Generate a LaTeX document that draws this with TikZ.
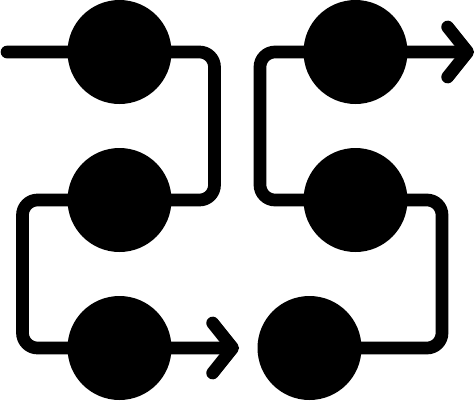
\documentclass[tikz,border=0pt]{standalone}
\usetikzlibrary{arrows.meta}
\tikzset{
  dot/.style={circle, fill=black, minimum size=104pt, inner sep=0pt},
  track/.style={line width=12.7pt, line cap=round, rounded corners=15pt},
  flowtip/.style={-{Straight Barb[length=20pt, width=50pt, round]}}
}
\begin{document}
\begin{tikzpicture}[x=1pt, y=-1pt]
  \useasboundingbox (0,0) rectangle (475,400);

  % Left column of stations
  \node[dot] (l1) at (119.5,52) {};
  \node[dot] (l2) at (119.5,200) {};
  \node[dot] (l3) at (119.5,348) {};

  % Right column of stations
  \node[dot] (r1) at (355.5,52) {};
  \node[dot] (r2) at (355.5,200) {};
  \node[dot] (r3) at (309.5,348) {};

  % Free ends and bends of the tracks
  \coordinate (lin) at (7,52);
  \coordinate (lbend1) at (214.5,52);
  \coordinate (lbend2) at (22.5,200);
  \coordinate (lout) at (239,348);
  \coordinate (rbend1) at (442,348);
  \coordinate (rbend2) at (260,200);
  \coordinate (rout) at (474,52);

  % Left track, top to bottom
  \draw[track, flowtip] (lin) -- (l1.center) -- (lbend1) |- (l2.center)
    -- (lbend2) |- (l3.center) -- (lout);

  % Right track, bottom to top
  \draw[track, flowtip] (r3.center) -- (rbend1) |- (r2.center)
    -- (rbend2) |- (r1.center) -- (rout);
\end{tikzpicture}
\end{document}
